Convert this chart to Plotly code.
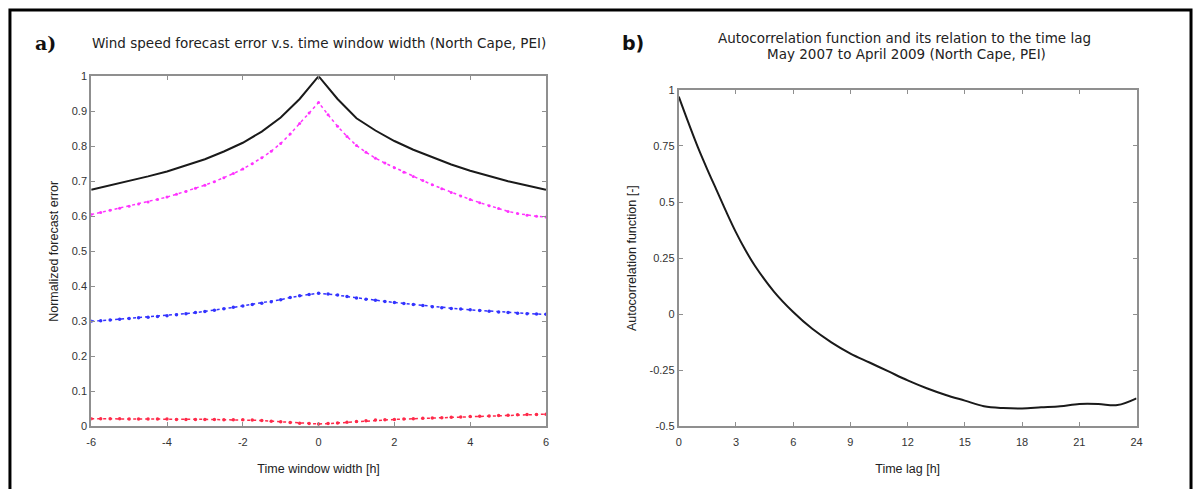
import plotly.graph_objects as go

# ---------------- data ----------------
# Panel a) time window width [h]
win_x = [-6, -5.75, -5.5, -5.25, -5, -4.75, -4.5, -4.25, -4, -3.75, -3.5, -3.25, -3,
         -2.75, -2.5, -2.25, -2, -1.75, -1.5, -1.25, -1, -0.75, -0.5, -0.25, 0,
         0.25, 0.5, 0.75, 1, 1.25, 1.5, 1.75, 2, 2.25, 2.5, 2.75, 3, 3.25, 3.5,
         3.75, 4, 4.25, 4.5, 4.75, 5, 5.25, 5.5, 5.75, 6]

black_x = [-6, -5.5, -5, -4.5, -4, -3.5, -3, -2.5, -2, -1.5, -1, -0.5, 0,
           0.5, 1, 1.5, 2, 2.5, 3, 3.5, 4, 4.5, 5, 5.5, 6]
black_y = [0.676, 0.688, 0.700, 0.714, 0.728, 0.745, 0.763, 0.785, 0.810, 0.842, 0.882,
           0.935, 1.000, 0.935, 0.880, 0.845, 0.815, 0.790, 0.768, 0.748, 0.730, 0.714,
           0.700, 0.688, 0.676]

magenta_y = [0.605, 0.611, 0.617, 0.623, 0.629, 0.635, 0.641, 0.648, 0.655, 0.663, 0.671,
             0.680, 0.689, 0.699, 0.710, 0.722, 0.735, 0.750, 0.767, 0.786, 0.808, 0.835,
             0.865, 0.895, 0.925, 0.890, 0.857, 0.828, 0.802, 0.783, 0.766, 0.752, 0.739,
             0.726, 0.714, 0.702, 0.690, 0.679, 0.668, 0.658, 0.648, 0.639, 0.630, 0.622,
             0.614, 0.608, 0.603, 0.600, 0.598]

blue_y = [0.300, 0.302, 0.304, 0.306, 0.308, 0.310, 0.312, 0.314, 0.316, 0.319, 0.322,
          0.325, 0.328, 0.332, 0.336, 0.340, 0.344, 0.348, 0.352, 0.356, 0.362, 0.368,
          0.373, 0.377, 0.380, 0.378, 0.375, 0.371, 0.367, 0.363, 0.360, 0.357, 0.354,
          0.351, 0.348, 0.345, 0.342, 0.339, 0.337, 0.335, 0.333, 0.331, 0.329, 0.327,
          0.325, 0.323, 0.322, 0.321, 0.320]

red_y = [0.022, 0.022, 0.022, 0.022, 0.021, 0.021, 0.021, 0.021, 0.021, 0.020, 0.020,
         0.020, 0.020, 0.020, 0.019, 0.019, 0.019, 0.018, 0.017, 0.015, 0.013, 0.011,
         0.009, 0.008, 0.007, 0.008, 0.010, 0.012, 0.014, 0.016, 0.018, 0.019, 0.020,
         0.021, 0.022, 0.023, 0.024, 0.025, 0.026, 0.027, 0.028, 0.029, 0.030, 0.031,
         0.032, 0.033, 0.034, 0.034, 0.035]

a_xticks = [-6, -4, -2, 0, 2, 4, 6]
a_xticklabels = ["-6", "-4", "-2", "0", "2", "4", "6"]
a_yticks = [0, 0.1, 0.2, 0.3, 0.4, 0.5, 0.6, 0.7, 0.8, 0.9, 1]
a_yticklabels = ["0", "0.1", "0.2", "0.3", "0.4", "0.5", "0.6", "0.7", "0.8", "0.9", "1"]

# Panel b) autocorrelation vs time lag [h]
lag_x = [0, 0.5, 1, 1.5, 2, 2.5, 3, 3.5, 4, 5, 6, 7, 8, 9, 10, 11, 12, 13, 14, 15, 16,
         17, 18, 19, 20, 21, 22, 23, 24]
acf_y = [0.97, 0.855, 0.745, 0.645, 0.55, 0.455, 0.365, 0.285, 0.215, 0.10, 0.01, -0.065,
         -0.125, -0.175, -0.215, -0.255, -0.295, -0.33, -0.36, -0.385, -0.41, -0.418,
         -0.42, -0.415, -0.41, -0.40, -0.40, -0.405, -0.375]

b_xticks = [0, 3, 6, 9, 12, 15, 18, 21, 24]
b_yticks = [-0.5, -0.25, 0, 0.25, 0.5, 0.75, 1]
b_yticklabels = ["-0.5", "-0.25", "0", "0.25", "0.5", "0.75", "1"]

# ---------------- figure ----------------
W, H = 1199, 489
FONT = "Liberation Sans, Arial, sans-serif"
TFONT = "DejaVu Sans, sans-serif"
AXC = "#8f8f8f"

fig = go.Figure()

fig.add_trace(go.Scatter(x=black_x, y=black_y, mode="lines",
                         line=dict(color="#1a1a1a", width=2), xaxis="x", yaxis="y"))
fig.add_trace(go.Scatter(x=win_x, y=magenta_y, mode="lines+markers",
                         line=dict(color="#ff33ff", width=1.5, dash="dot"),
                         marker=dict(color="#ff33ff", size=3), xaxis="x", yaxis="y"))
fig.add_trace(go.Scatter(x=win_x, y=blue_y, mode="lines+markers",
                         line=dict(color="#3333ff", width=1.5, dash="dot"),
                         marker=dict(color="#3333ff", size=3.5), xaxis="x", yaxis="y"))
fig.add_trace(go.Scatter(x=win_x, y=red_y, mode="lines+markers",
                         line=dict(color="#ff2a4a", width=1.5, dash="dot"),
                         marker=dict(color="#ff2a4a", size=3.5), xaxis="x", yaxis="y"))

fig.add_trace(go.Scatter(x=lag_x, y=acf_y, mode="lines", line_shape="spline",
                         line=dict(color="#1a1a1a", width=2), xaxis="x2", yaxis="y2"))

def px_x(p):
    return p / W

def px_y(p):
    return 1 - p / H

axis_common = dict(showline=True, linecolor=AXC, linewidth=2, mirror="ticks",
                   ticks="inside", ticklen=4, tickcolor=AXC, showgrid=False,
                   zeroline=False, tickfont=dict(family=FONT, size=11, color="#333"),
                   title_font=dict(family=FONT, size=12.5, color="#222"))

fig.update_layout(
    width=W, height=H,
    margin=dict(l=0, r=0, t=0, b=0),
    paper_bgcolor="white", plot_bgcolor="white",
    showlegend=False,
    xaxis=dict(domain=[px_x(87), px_x(546)], range=[-6, 6], tickvals=a_xticks,
               ticktext=a_xticklabels, ticklabelstandoff=4,
               title=dict(text="Time window width [h]", standoff=18), anchor="y",
               **axis_common),
    yaxis=dict(domain=[px_y(431), px_y(72)], range=[0, 1], tickvals=a_yticks,
               ticktext=a_yticklabels,
               title=dict(text="Normalized forecast error", standoff=10), anchor="x",
               **axis_common),
    xaxis2=dict(domain=[px_x(680), px_x(1142)], range=[0, 24], tickvals=b_xticks,
                ticklabelstandoff=4,
                title=dict(text="Time lag [h]", standoff=18), anchor="y2",
                **axis_common),
    yaxis2=dict(domain=[px_y(431), px_y(86)], range=[-0.5, 1], tickvals=b_yticks,
                ticktext=b_yticklabels,
                title=dict(text="Autocorrelation function [-]", standoff=10), anchor="x2",
                **axis_common),
)

# Titles and panel labels
fig.add_annotation(x=px_x(317), y=px_y(38), xref="paper", yref="paper", showarrow=False,
                   xanchor="center", yanchor="middle",
                   text="Wind speed forecast error v.s. time window width (North Cape, PEI)",
                   font=dict(family=TFONT, size=13.5, color="#222"))
fig.add_annotation(x=px_x(908), y=px_y(33), xref="paper", yref="paper", showarrow=False,
                   xanchor="center", yanchor="middle",
                   text="Autocorrelation function and its relation to the time lag",
                   font=dict(family=TFONT, size=13.5, color="#222"))
fig.add_annotation(x=px_x(910), y=px_y(49), xref="paper", yref="paper", showarrow=False,
                   xanchor="center", yanchor="middle",
                   text="May 2007 to April 2009 (North Cape, PEI)",
                   font=dict(family=TFONT, size=13.5, color="#222"))
fig.add_annotation(x=px_x(41), y=px_y(38), xref="paper", yref="paper", showarrow=False,
                   xanchor="center", yanchor="middle",
                   text="<b>a)</b>", font=dict(family="DejaVu Serif, serif", size=19, color="#111"))
fig.add_annotation(x=px_x(634), y=px_y(38), xref="paper", yref="paper", showarrow=False,
                   xanchor="center", yanchor="middle",
                   text="<b>b)</b>", font=dict(family="DejaVu Sans, sans-serif", size=19, color="#111"))

# outer frame
fig.add_shape(type="rect", xref="paper", yref="paper",
              x0=px_x(5), x1=px_x(1197), y0=px_y(520), y1=px_y(4),
              line=dict(color="black", width=3))

fig.write_html("out.html")
